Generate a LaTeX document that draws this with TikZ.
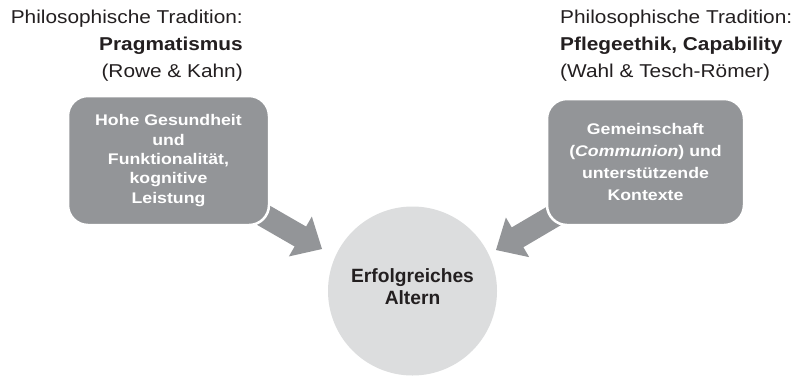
\documentclass[tikz,border=0pt]{standalone}
\usepackage{fontspec}
\setmainfont{Liberation Sans}
\newfontfamily\hdfont[FakeStretch=1.12]{Liberation Sans}
\newfontfamily\bxfont[FakeStretch=1.15]{Liberation Sans}
\usetikzlibrary{calc,backgrounds}
\definecolor{boxgray}{RGB}{147,149,152}
\definecolor{circgray}{RGB}{220,221,222}
\definecolor{txtdark}{RGB}{35,31,32}
\begin{document}
\begin{tikzpicture}[x=1pt,y=-1pt,
  header/.style={inner sep=0pt, text=txtdark, font=\hdfont\fontsize{18.6}{27.3}\selectfont},
  gbox/.style={rounded corners=20pt, fill=boxgray, draw=white, line width=2.5pt, text=white,
    align=center, inner sep=0pt, font=\bxfont\bfseries\fontsize{15.4}{#1}\selectfont},
  goal/.style={circle, fill=circgray, minimum size=169pt, inner sep=0pt, align=center,
    text=txtdark, text depth=9pt, font=\bfseries\fontsize{19.2}{22}\selectfont},
  shaft/.style={line width=23pt, boxgray},
  head/.style={fill=boxgray}
]
\useasboundingbox (0,0) rectangle (800,376);

% headers
\node[header, anchor=north east, align=right] (lhead) at (243,9.4)
  {Philosophische Tradition:\\\textbf{Pragmatismus}\\(Rowe \& Kahn)};
\node[header, anchor=north west, align=left] (rhead) at (560,9.7)
  {Philosophische Tradition:\\\textbf{Pflegeethik, Capability}\\(Wahl \& Tesch-Römer)};

% boxes
\node[gbox=19.3, minimum width=201pt, minimum height=129pt] (lbox) at (168.5,160.5)
  {Hohe Gesundheit\\und\\Funktionalität,\\kognitive\\Leistung};
\node[gbox=22, minimum width=197pt, minimum height=126pt] (rbox) at (645.5,162)
  {Gemeinschaft\\(\textit{Communion}) und\\unterstützende\\Kontexte};

% goal
\node[goal] (circ) at (412.5,291) {Erfolgreiches\\Altern};

% arrow tips
\coordinate (ltip) at (322,249);
\coordinate (rtip) at (496,250);

\begin{pgfonlayer}{background}
\fill[white] (0,0) rectangle (800,376);
\coordinate (lback) at ($(ltip)!25pt!(lbox.center)$);
\draw[shaft] (lbox.center) -- ($(ltip)!24pt!(lbox.center)$);
\fill[head] (ltip) -- ($(lback)!23pt!90:(ltip)$) -- ($(lback)!23pt!-90:(ltip)$) -- cycle;
\coordinate (rback) at ($(rtip)!25pt!(rbox.center)$);
\draw[shaft] (rbox.center) -- ($(rtip)!24pt!(rbox.center)$);
\fill[head] (rtip) -- ($(rback)!23pt!90:(rtip)$) -- ($(rback)!23pt!-90:(rtip)$) -- cycle;
\end{pgfonlayer}
\end{tikzpicture}
\end{document}
